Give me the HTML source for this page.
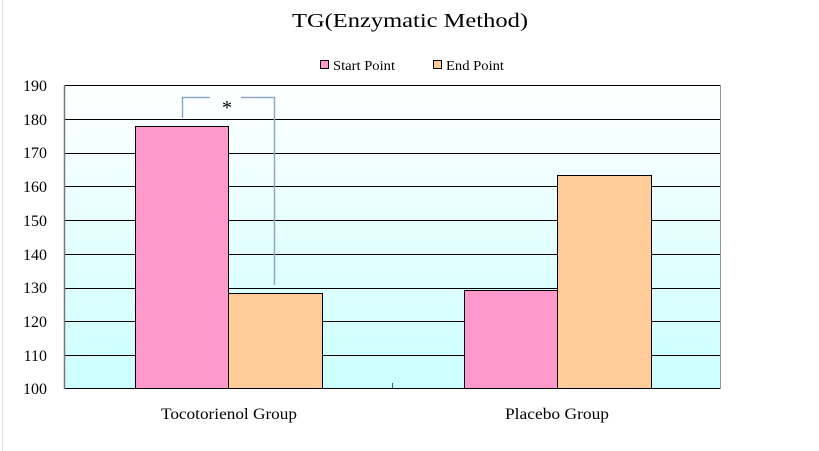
<!DOCTYPE html>
<html><head><style>body{margin:0;background:#fff}svg{display:block}</style></head><body>
<svg width="819" height="451" xmlns="http://www.w3.org/2000/svg" font-family="Liberation Serif, serif">
<defs><linearGradient id="g" x1="0" y1="0" x2="0" y2="1"><stop offset="0" stop-color="#ffffff"/><stop offset="1" stop-color="#ccffff"/></linearGradient></defs>
<line x1="2.5" y1="0" x2="2.5" y2="451" stroke="#e4e4e4"/>
<text x="410" y="27" font-size="20" text-anchor="middle" textLength="236" lengthAdjust="spacingAndGlyphs">TG(Enzymatic Method)</text>
<rect x="320.5" y="60.5" width="8" height="8" fill="#ff99cc" stroke="#000"/>
<text x="333" y="70" font-size="14" textLength="62" lengthAdjust="spacingAndGlyphs">Start Point</text>
<rect x="433.5" y="60.5" width="8" height="8" fill="#ffcc99" stroke="#000"/>
<text x="446" y="70" font-size="14" textLength="58" lengthAdjust="spacingAndGlyphs">End Point</text>
<rect x="64" y="85" width="656" height="303" fill="url(#g)"/>
<g stroke="#000" stroke-width="1">
<line x1="64" y1="85.5" x2="720" y2="85.5"/>
<line x1="64" y1="119.5" x2="720" y2="119.5"/>
<line x1="64" y1="153.5" x2="720" y2="153.5"/>
<line x1="64" y1="186.5" x2="720" y2="186.5"/>
<line x1="64" y1="220.5" x2="720" y2="220.5"/>
<line x1="64" y1="254.5" x2="720" y2="254.5"/>
<line x1="64" y1="288.5" x2="720" y2="288.5"/>
<line x1="64" y1="321.5" x2="720" y2="321.5"/>
<line x1="64" y1="355.5" x2="720" y2="355.5"/>
<line x1="64" y1="388.5" x2="720" y2="388.5"/>
</g>
<line x1="64.5" y1="85" x2="64.5" y2="389" stroke="#777" stroke-width="1.5"/>
<line x1="720.5" y1="85" x2="720.5" y2="389" stroke="#999"/>
<line x1="392.5" y1="383" x2="392.5" y2="388" stroke="#555"/>
<g stroke="#000">
<rect x="135.5" y="126.5" width="93" height="262" fill="#ff99cc"/>
<rect x="228.5" y="293.5" width="94" height="95" fill="#ffcc99"/>
<rect x="464.5" y="290.5" width="93" height="98" fill="#ff99cc"/>
<rect x="557.5" y="175.5" width="94" height="213" fill="#ffcc99"/>
</g>
<polyline points="182.5,118 182.5,97.5 210,97.5" fill="none" stroke="#8fa9c0" stroke-width="1.5"/>
<polyline points="241,97.5 274.5,97.5 274.5,285" fill="none" stroke="#8fa9c0" stroke-width="1.5"/>
<text x="227" y="114" font-size="20" text-anchor="middle">*</text>
<g font-size="16" text-anchor="end">
<text x="47" y="91">190</text><text x="47" y="125">180</text><text x="47" y="158">170</text><text x="47" y="192">160</text><text x="47" y="226">150</text><text x="47" y="260">140</text><text x="47" y="293">130</text><text x="47" y="327">120</text><text x="47" y="361">110</text><text x="47" y="394">100</text>
</g>
<text x="229" y="419" font-size="16" text-anchor="middle" textLength="136" lengthAdjust="spacingAndGlyphs">Tocotorienol Group</text>
<text x="557" y="419" font-size="16" text-anchor="middle" textLength="104" lengthAdjust="spacingAndGlyphs">Placebo Group</text>
</svg>
</body></html>
